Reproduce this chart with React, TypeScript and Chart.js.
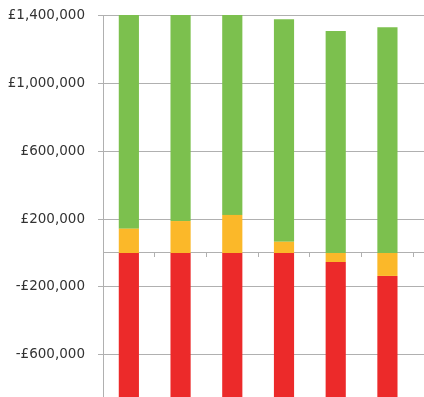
import React, { useEffect, useRef } from "react";
import { Chart, registerables } from "chart.js";

Chart.register(...registerables);

const categories = ["1", "2", "3", "4", "5", "6", ""];
const orangeValues = [143000, 188000, 224000, 66000, -53000, -135000];
const greenValues = [1257000, 1212000, 1176000, 1310000, 1306000, 1329000];
const redValues = [-950000, -950000, -950000, -950000, -950000, -950000];
const yTickValues = [-1000000, -600000, -200000, 200000, 600000, 1000000, 1400000];

const fmt = (v: number) => {
  const abs = Math.abs(v).toLocaleString("en-GB");
  return (v < 0 ? "-£" : "£") + abs;
};

export default function App() {
  const ref = useRef<HTMLCanvasElement | null>(null);
  useEffect(() => {
    if (!ref.current) return;
    const grey = "#b0b0b0";
    const chart = new Chart(ref.current, {
      type: "bar",
      data: {
        labels: categories,
        datasets: [
          { label: "Orange", data: orangeValues, backgroundColor: "#fbb829" },
          { label: "Green", data: greenValues, backgroundColor: "#7cc04e" },
          { label: "Red", data: redValues, backgroundColor: "#ec2a2a" },
        ],
      },
      options: {
        responsive: false,
        animation: false,
        devicePixelRatio: 1,
        layout: { padding: { left: 0, top: 9, right: 5, bottom: 7 } },
        plugins: { legend: { display: false }, tooltip: { enabled: false } },
        datasets: { bar: { categoryPercentage: 1, barPercentage: 0.39 } },
        scales: {
          x: {
            type: "category",
            stacked: true,
            position: { y: 0 } as any,
            grid: {
              display: true,
              drawOnChartArea: false,
              drawTicks: true,
              tickLength: 4,
              color: grey,
              offset: true,
            },
            border: { display: true, color: grey },
            ticks: { display: false },
          },
          y: {
            type: "linear",
            stacked: true,
            min: -1000000,
            max: 1400000,
            afterBuildTicks: (scale: any) => {
              scale.ticks = yTickValues.map((v) => ({ value: v }));
            },
            afterFit: (scale: any) => {
              scale.width = 103;
            },
            grid: { color: grey, tickLength: 5, drawTicks: true },
            border: { display: true, color: grey },
            ticks: {
              padding: 13,
              color: "#333333",
              font: { family: "DejaVu Sans", size: 13.5 },
              callback: (v: any) => fmt(Number(v)),
            },
          },
        },
      },
    });
    return () => chart.destroy();
  }, []);
  return (
    <div style={{ position: "absolute", left: 0, top: -6, width: 470, height: 450 }}>
      <canvas ref={ref} width={470} height={450} />
    </div>
  );
}
